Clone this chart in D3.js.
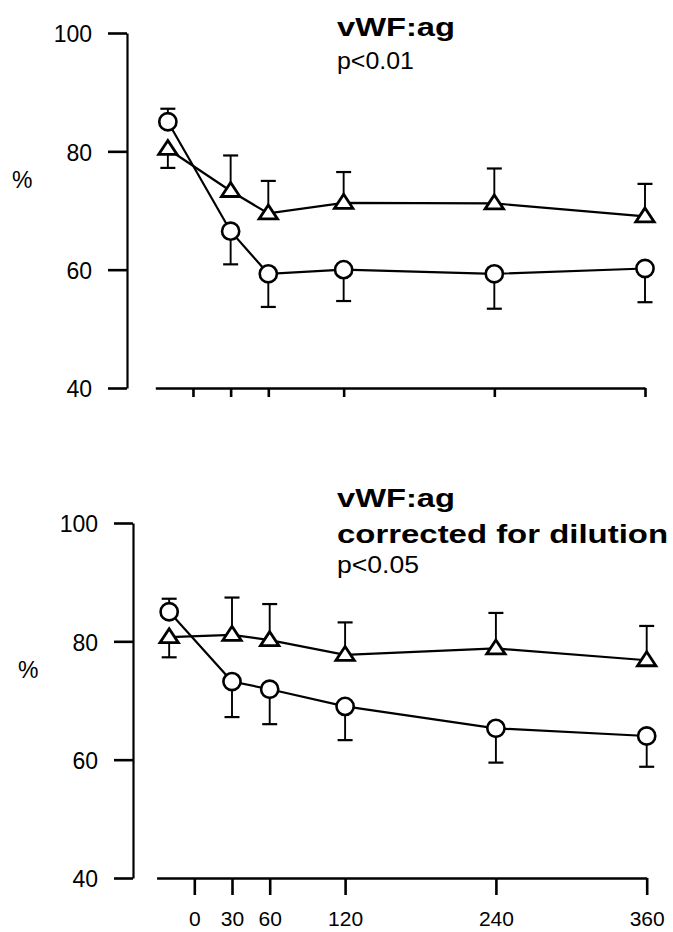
<!DOCTYPE html>
<html>
<head>
<meta charset="utf-8">
<script src="https://cdn.jsdelivr.net/npm/d3@7"></script>
<style>
  body { margin: 0; background: #fff; }
  svg { display: block; }
  text { font-family: "Liberation Sans", Arial, sans-serif; fill: #000; }
</style>
</head>
<body>
<div id="canvas"></div>
<script>
/*
 * Data (minutes after start, % of baseline)
 *
 */
const timePoints = [-20, 30, 60, 120, 240, 360];
const xTicks = [0, 30, 60, 120, 240, 360];
const yTicks = [40, 60, 80, 100];

// top panel: vWF:ag
const circleMeanTop = [85.0, 66.5, 59.3, 60.0, 59.3, 60.2];
const circleErrTop = [2.2, 5.6, 5.6, 5.3, 5.9, 5.7];
const triMeanTop = [80.4, 73.3, 69.5, 71.3, 71.2, 69.0];
const triErrTop = [3.2, 6.0, 5.5, 5.2, 5.9, 5.5];

// bottom panel: vWF:ag corrected for dilution
const circleMeanBottom = [85.0, 73.2, 71.9, 69.0, 65.3, 64.0];
const circleErrBottom = [2.2, 6.0, 5.9, 5.7, 5.8, 5.2];
const triMeanBottom = [80.7, 81.1, 80.2, 77.7, 78.8, 76.8];
const triErrBottom = [3.4, 6.3, 6.1, 5.5, 6.0, 5.8];

// which side the error bar is drawn on (1 = up, -1 = down)
const circleErrSide = [1, -1, -1, -1, -1, -1];
const triErrSide = [-1, 1, 1, 1, 1, 1];

const svgWidth = 673,
  svgHeight = 932;

const svg = d3.select('#canvas').append('svg')
  .attr('width', svgWidth)
  .attr('height', svgHeight);

/*
 * One panel = y axis, x axis, two series with one-sided SEM bars
 *
 */
function drawPanel(p) {
  const g = svg.append('g');

  const xScale = d3.scaleLinear()
    .domain([-30, 360])
    .range([p.xLeft, p.xRight]);

  const yScale = d3.scaleLinear()
    .domain([40, 100])
    .range([p.yBottom, p.yTop]);

  // y axis
  const leftAxis = g.append('g')
    .attr('transform', `translate(${p.axisX},0)`)
    .call(d3.axisLeft(yScale).tickValues(yTicks).tickSize(19).tickPadding(16).tickSizeOuter(0));
  leftAxis.select('.domain').attr('stroke-width', 2.2);
  leftAxis.selectAll('.tick line').attr('stroke-width', 2.6);
  leftAxis.selectAll('.tick text')
    .attr('font-size', 23)
    .attr('dy', '0.38em')
    .style('font-family', '"Liberation Sans", Arial, sans-serif');

  // x axis
  const bottomAxis = g.append('g')
    .attr('transform', `translate(0,${p.yBottom})`)
    .call(d3.axisBottom(xScale).tickValues(xTicks).tickSize(p.tickLen).tickSizeOuter(0));
  bottomAxis.select('.domain').attr('stroke-width', 2.4);
  bottomAxis.selectAll('.tick line').attr('stroke-width', 2.6);
  bottomAxis.selectAll('.tick text')
    .attr('font-size', 21)
    .attr('y', p.labelY - p.yBottom)
    .attr('dy', 0)
    .style('font-family', '"Liberation Sans", Arial, sans-serif')
    .style('display', p.showXLabels ? null : 'none');

  // % label
  g.append('text')
    .attr('x', p.pctX)
    .attr('y', p.pctY)
    .attr('font-size', 23)
    .text('%');

  // titles
  p.titles.forEach((t) => {
    g.append('text')
      .attr('x', 337)
      .attr('y', t.y)
      .attr('font-size', t.size)
      .attr('font-weight', t.bold ? 'bold' : 'normal')
      .attr('textLength', t.len)
      .attr('lengthAdjust', 'spacingAndGlyphs')
      .text(t.text);
  });

  const series = [
    { mean: p.circleMean, err: p.circleErr, side: circleErrSide, shape: 'circle' },
    { mean: p.triMean, err: p.triErr, side: triErrSide, shape: 'triangle' }
  ];

  const line = d3.line()
    .x((d) => xScale(d.t))
    .y((d) => yScale(d.v));

  series.forEach((s) => {
    const pts = timePoints.map((t, i) => ({ t: t, v: s.mean[i], e: s.err[i], side: s.side[i] }));

    g.append('path')
      .datum(pts)
      .attr('d', line)
      .attr('fill', 'none')
      .attr('stroke', '#000')
      .attr('stroke-width', 2.2);

    // error bars
    const bars = g.append('g').selectAll('g')
      .data(pts)
      .enter()
      .append('g');
    bars.append('line')
      .attr('x1', (d) => xScale(d.t))
      .attr('x2', (d) => xScale(d.t))
      .attr('y1', (d) => yScale(d.v))
      .attr('y2', (d) => yScale(d.v + d.side * d.e))
      .attr('stroke', '#000')
      .attr('stroke-width', 1.9);
    bars.append('line')
      .attr('x1', (d) => xScale(d.t) - 7.5)
      .attr('x2', (d) => xScale(d.t) + 7.5)
      .attr('y1', (d) => yScale(d.v + d.side * d.e))
      .attr('y2', (d) => yScale(d.v + d.side * d.e))
      .attr('stroke', '#000')
      .attr('stroke-width', 2.2);

    // markers
    const marks = g.append('g').selectAll('path')
      .data(pts)
      .enter();
    if (s.shape === 'circle') {
      marks.append('circle')
        .attr('cx', (d) => xScale(d.t))
        .attr('cy', (d) => yScale(d.v))
        .attr('r', 8.6)
        .attr('fill', '#fff')
        .attr('stroke', '#000')
        .attr('stroke-width', 2.6);
    } else {
      marks.append('path')
        .attr('d', 'M0,-8.5L9.2,5.5L-9.2,5.5Z')
        .attr('transform', (d) => `translate(${xScale(d.t)},${yScale(d.v)})`)
        .attr('fill', '#fff')
        .attr('stroke', '#000')
        .attr('stroke-width', 2.8)
        .attr('stroke-linejoin', 'miter');
    }
  });
}

drawPanel({
  yTop: 33, yBottom: 388, axisX: 127,
  xLeft: 155.3, xRight: 645, tickLen: 9,
  showXLabels: false, labelY: 0,
  pctX: 12, pctY: 188,
  titles: [
    { text: 'vWF:ag', y: 36, size: 25, bold: true, len: 118 },
    { text: 'p<0.01', y: 69, size: 24, bold: false, len: 77 }
  ],
  circleMean: circleMeanTop, circleErr: circleErrTop,
  triMean: triMeanTop, triErr: triErrTop
});

drawPanel({
  yTop: 523, yBottom: 878, axisX: 133,
  xLeft: 156.6, xRight: 646.7, tickLen: 17,
  showXLabels: true, labelY: 926,
  pctX: 18, pctY: 678,
  titles: [
    { text: 'vWF:ag', y: 507, size: 25, bold: true, len: 118 },
    { text: 'corrected for dilution', y: 543, size: 26, bold: true, len: 331 },
    { text: 'p<0.05', y: 573, size: 24, bold: false, len: 82 }
  ],
  circleMean: circleMeanBottom, circleErr: circleErrBottom,
  triMean: triMeanBottom, triErr: triErrBottom
});
</script>
</body>
</html>
